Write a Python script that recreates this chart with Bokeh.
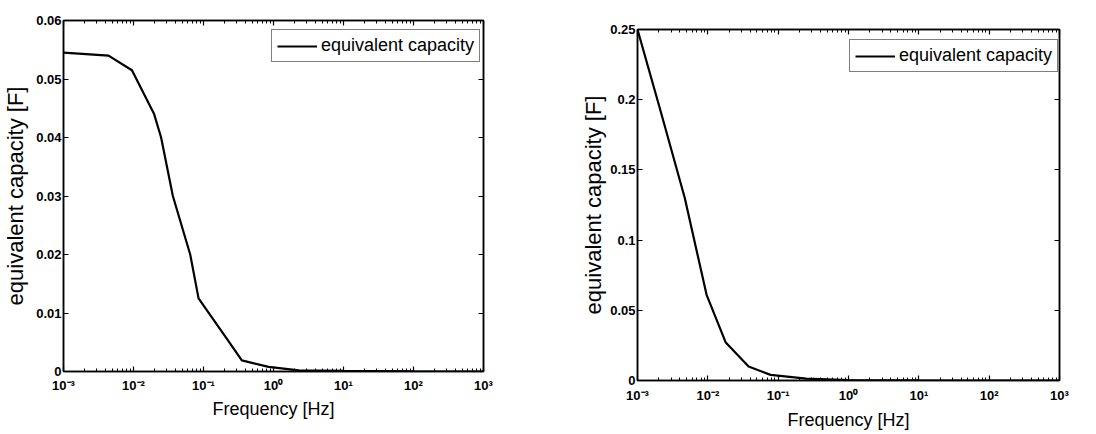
from bokeh.plotting import figure
from bokeh.layouts import row, column
from bokeh.models import (FixedTicker, CustomJSTickFormatter, LinearAxis, LogAxis,
                          Legend, LegendItem, Range1d, CustomLabelingPolicy, Spacer)
from bokeh.embed import file_html
from bokeh.resources import INLINE

# ---- data ----
left_freq = [0.001, 0.0044, 0.0095, 0.0197, 0.0248, 0.0365, 0.0646, 0.085, 0.204, 0.353, 0.85, 2.3, 10, 100, 1000]
left_cap = [0.0545, 0.054, 0.0515, 0.044, 0.040, 0.030, 0.020, 0.0125, 0.006, 0.0019, 0.0008, 0.0002, 0.0001, 0.00003, 0.0]

right_freq = [0.001, 0.0021, 0.0047, 0.0096, 0.018, 0.038, 0.078, 0.25, 1, 10, 100, 1000]
right_cap = [0.25, 0.193, 0.13, 0.061, 0.027, 0.010, 0.004, 0.0014, 0.0002, 0.00005, 0.00001, 0.0]

x_major = [1e-3, 1e-2, 1e-1, 1e0, 1e1, 1e2, 1e3]
left_yticks = [0, 0.01, 0.02, 0.03, 0.04, 0.05, 0.06]
right_yticks = [0, 0.05, 0.1, 0.15, 0.2, 0.25]
legend_label = "equivalent capacity"
x_title = "Frequency [Hz]"
y_title = "equivalent capacity [F]"

FONT = "Liberation Sans"

x_minor = [m * 10.0 ** d for d in range(-3, 3) for m in range(2, 10)]

log_fmt = CustomJSTickFormatter(code="""
const sup = {'-':'\u207b','0':'\u2070','1':'\u00b9','2':'\u00b2','3':'\u00b3'};
const e = Math.round(Math.log10(tick));
return '10' + String(e).split('').map(c => sup[c]).join('');
""")
lin_fmt = CustomJSTickFormatter(code="return parseFloat(tick.toFixed(4)).toString();")
no_labels = CustomLabelingPolicy(code="return [];")


def style_axis(ax, labels=True):
    ax.axis_line_color = "black"
    ax.axis_line_width = 1.5
    ax.major_tick_in = 5
    ax.major_tick_out = 0
    ax.major_tick_line_color = "black"
    ax.major_tick_line_width = 1.2
    ax.minor_tick_in = 3
    ax.minor_tick_out = 0
    ax.minor_tick_line_color = "black"
    ax.major_label_text_font = FONT
    ax.major_label_text_font_style = "bold"
    ax.major_label_text_font_size = "13px" if labels else "1px"
    ax.major_label_text_color = "black"
    ax.major_label_standoff = 2 if labels else 0
    ax.axis_label_text_font = FONT
    ax.axis_label_text_font_style = "normal"
    ax.axis_label_text_color = "black"
    if not labels:
        ax.major_label_policy = no_labels


def make(freq, cap, ymax, yticks, fw, fh, bl, br, bt, bb, leg_loc, xstand, xlstand, ylstand):
    p = figure(frame_width=fw, frame_height=fh, x_axis_type="log",
               x_range=Range1d(1e-3, 1e3), y_range=Range1d(0, ymax),
               output_backend="svg", toolbar_location=None,
               min_border_left=bl, min_border_right=br,
               min_border_top=bt, min_border_bottom=bb)
    p.grid.visible = False
    p.outline_line_color = "black"
    p.outline_line_width = 1.5
    p.background_fill_color = "white"
    p.border_fill_color = "white"

    xt = FixedTicker(ticks=x_major, minor_ticks=x_minor)
    yt = FixedTicker(ticks=yticks)

    p.xaxis.ticker = xt
    p.xaxis.formatter = log_fmt
    p.xaxis.axis_label = x_title
    p.yaxis.ticker = yt
    p.yaxis.formatter = lin_fmt
    p.yaxis.axis_label = y_title
    for ax in p.xaxis + p.yaxis:
        style_axis(ax)
    p.xaxis.major_label_standoff = xstand
    p.xaxis.axis_label_text_font_size = "18px"
    p.xaxis.axis_label_standoff = xlstand
    p.yaxis.axis_label_text_font_size = "22px"
    p.yaxis.axis_label_standoff = ylstand
    p.yaxis.minor_tick_line_color = None

    top = LogAxis(ticker=xt, formatter=log_fmt)
    style_axis(top, labels=False)
    p.add_layout(top, "above")
    right = LinearAxis(ticker=yt, formatter=lin_fmt)
    style_axis(right, labels=False)
    right.minor_tick_line_color = None
    p.add_layout(right, "right")

    r = p.line(freq, cap, line_color="black", line_width=2.2)
    leg = Legend(items=[LegendItem(label=legend_label, renderers=[r])],
                 location=leg_loc, margin=0)
    leg.border_line_color = "black"
    leg.border_line_width = 1.5
    leg.label_text_font = FONT
    leg.label_text_font_size = "18px"
    leg.label_text_color = "black"
    leg.glyph_width = 40
    leg.glyph_height = 18
    leg.label_height = 18
    leg.padding = 5
    leg.spacing = 0
    leg.label_standoff = 4
    leg.background_fill_alpha = 1.0
    p.add_layout(leg)
    return p


p1 = make(left_freq, left_cap, 0.06, left_yticks, 420, 351, 57, 63, 20, 47, (208, 309), 6, 3, 5)
p2 = make(right_freq, right_cap, 0.25, right_yticks, 422, 351, 91, 27, 20, 52, (212, 308), 7, 4, 1)

layout = row(p1, column(Spacer(width=540, height=9), p2, spacing=0), spacing=0)
open("out.html", "w").write(file_html(layout, INLINE))
